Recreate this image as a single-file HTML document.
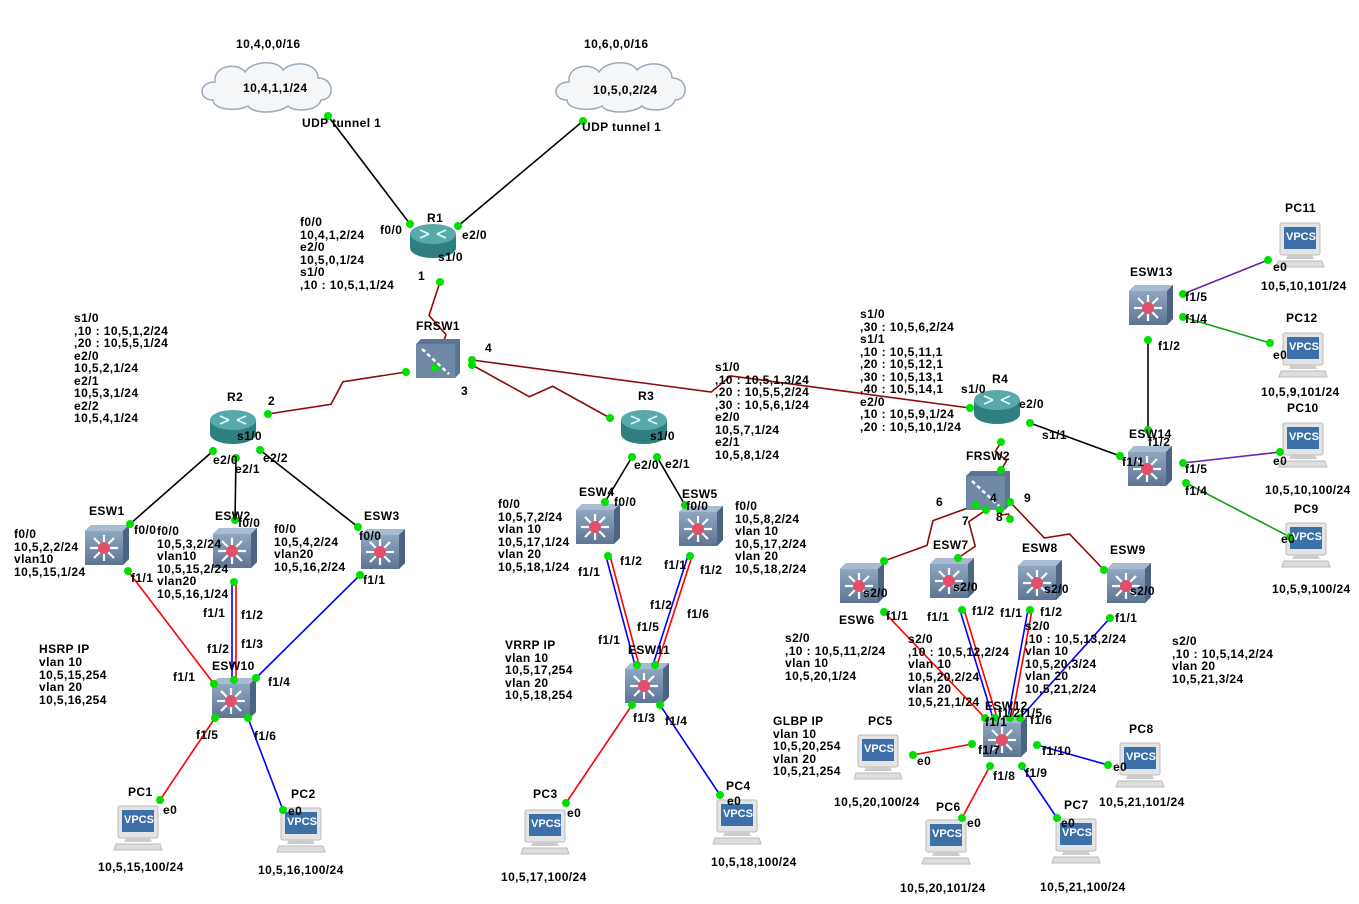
<!DOCTYPE html>
<html><head><meta charset="utf-8"><style>
body{margin:0;background:#fff}
svg{display:block}
text{font-family:"Liberation Sans",sans-serif;font-size:12px;letter-spacing:0.4px;font-weight:bold;fill:#000;dominant-baseline:hanging}
.v{font-size:11px;letter-spacing:0;fill:#fff;font-weight:bold}
</style></head><body>
<svg id="s" width="1359" height="904" viewBox="0 0 1359 904" xmlns="http://www.w3.org/2000/svg">
<defs>
<linearGradient id="sg" x1="0" y1="0" x2="0" y2="1"><stop offset="0" stop-color="#8fa6c0"/><stop offset="1" stop-color="#5d7594"/></linearGradient>
<g id="sw"><path d="M0,6 L6,0 L44,0 L44,34 L38,40 L0,40Z" fill="#5d7594"/><rect x="0" y="6" width="38" height="34" fill="url(#sg)"/><path d="M0,6 L6,0 L44,0 L38,6Z" fill="#a9bbd0"/><path d="M38,6 L44,0 L44,34 L38,40Z" fill="#4c6482"/>
<g stroke="#fff" stroke-width="2.2"><line x1="19" y1="23" x2="19" y2="10"/><line x1="19" y1="23" x2="19" y2="36"/><line x1="19" y1="23" x2="5" y2="23"/><line x1="19" y1="23" x2="33" y2="23"/><line x1="19" y1="23" x2="9" y2="13"/><line x1="19" y1="23" x2="29" y2="33"/><line x1="19" y1="23" x2="29" y2="13"/><line x1="19" y1="23" x2="9" y2="33"/></g>
<circle cx="19" cy="23" r="6" fill="#e0506a"/></g>
<g id="fr"><path d="M0,5 L5,0 L44,0 L44,34 L39,39 L0,39Z" fill="#5d7594"/><rect x="0" y="5" width="39" height="34" fill="#6f88a6"/><line x1="6" y1="10" x2="33" y2="35" stroke="#fff" stroke-width="2.5" stroke-dasharray="4,3"/></g>
<g id="rt"><path d="M0,12 L0,26 A23,10 0 0 0 46,26 L46,12Z" fill="#2f7f80"/><ellipse cx="23" cy="12" rx="23" ry="10" fill="#5aa9aa"/><g stroke="#dff" stroke-width="1.6"><line x1="10" y1="8" x2="19" y2="12"/><line x1="36" y1="8" x2="27" y2="12"/><line x1="10" y1="16" x2="19" y2="12"/><line x1="36" y1="16" x2="27" y2="12"/></g></g>
<g id="pc"><rect x="2" y="0" width="40" height="32" rx="2" fill="#e4e4e4" stroke="#bbb"/><rect x="6" y="4" width="32" height="22" fill="#3d70a8"/><path d="M10,32 L34,32 L36,36 L8,36Z" fill="#ccc"/><path d="M0,38 L44,38 L46,44 L-2,44Z" fill="#ddd" stroke="#bbb"/></g>
<g id="cl"><path d="M10,40 C-5,40 -5,22 12,22 C10,5 35,2 42,12 C50,0 75,0 80,10 C90,0 115,2 115,18 C132,18 132,40 118,40 C115,52 90,52 85,46 C75,54 50,54 45,46 C35,52 10,50 10,40Z" fill="#f4f6f8" stroke="#9ab" stroke-width="1.5"/></g>
</defs>
<g id="links" fill="none" stroke-width="1.6"></g>
<use href="#cl" x="203" y="60"/><use href="#cl" x="557" y="60"/>
<use href="#rt" x="410" y="222"/><use href="#rt" x="210" y="408"/><use href="#rt" x="621" y="408"/><use href="#rt" x="974" y="388"/>
<use href="#fr" x="416" y="339"/><use href="#fr" x="966" y="471"/>
<use href="#sw" x="85" y="525"/><use href="#sw" x="213" y="528"/><use href="#sw" x="361" y="529"/><use href="#sw" x="576" y="504"/><use href="#sw" x="679" y="506"/><use href="#sw" x="212" y="678"/><use href="#sw" x="625" y="663"/><use href="#sw" x="840" y="563"/><use href="#sw" x="930" y="558"/><use href="#sw" x="1018" y="560"/><use href="#sw" x="1107" y="563"/><use href="#sw" x="983" y="717"/><use href="#sw" x="1129" y="285"/><use href="#sw" x="1128" y="446"/>
<g id="pcs"></g>
<g id="dots" fill="#00e000"></g>
<text x="236" y="39">10,4,0,0/16</text><text x="243" y="83">10,4,1,1/24</text><text x="302" y="118">UDP tunnel 1</text>
<text x="584" y="39">10,6,0,0/16</text><text x="593" y="85">10,5,0,2/24</text><text x="582" y="122">UDP tunnel 1</text>
<text x="427" y="213">R1</text><text x="380" y="225">f0/0</text><text x="462" y="230">e2/0</text><text x="438" y="252">s1/0</text><text x="418" y="271">1</text>
<text x="300" y="217">f0/0</text><text x="300" y="230">10,4,1,2/24</text><text x="300" y="242">e2/0</text><text x="300" y="255">10,5,0,1/24</text><text x="300" y="267">s1/0</text><text x="300" y="280">,10 : 10,5,1,1/24</text>
<text x="416" y="321">FRSW1</text><text x="485" y="343">4</text><text x="461" y="386">3</text><text x="268" y="396">2</text>
<text x="74" y="313">s1/0</text><text x="74" y="326">,10 : 10,5,1,2/24</text><text x="74" y="338">,20 : 10,5,5,1/24</text><text x="74" y="351">e2/0</text><text x="74" y="363">10,5,2,1/24</text><text x="74" y="376">e2/1</text><text x="74" y="388">10,5,3,1/24</text><text x="74" y="401">e2/2</text><text x="74" y="413">10,5,4,1/24</text>
<text x="227" y="392">R2</text><text x="237" y="431">s1/0</text><text x="213" y="455">e2/0</text><text x="235" y="464">e2/1</text><text x="263" y="453">e2/2</text>
<text x="89" y="506">ESW1</text><text x="134" y="525">f0/0</text><text x="14" y="529">f0/0</text><text x="14" y="542">10,5,2,2/24</text><text x="14" y="554">vlan10</text><text x="14" y="567">10,5,15,1/24</text><text x="131" y="573">f1/1</text>
<text x="215" y="511">ESW2</text><text x="238" y="518">f0/0</text><text x="157" y="526">f0/0</text><text x="157" y="539">10,5,3,2/24</text><text x="157" y="551">vlan10</text><text x="157" y="564">10,5,15,2/24</text><text x="157" y="576">vlan20</text><text x="157" y="589">10,5,16,1/24</text>
<text x="203" y="608">f1/1</text><text x="241" y="610">f1/2</text><text x="207" y="644">f1/2</text><text x="241" y="639">f1/3</text>
<text x="364" y="511">ESW3</text><text x="359" y="531">f0/0</text><text x="274" y="524">f0/0</text><text x="274" y="537">10,5,4,2/24</text><text x="274" y="549">vlan20</text><text x="274" y="562">10,5,16,2/24</text><text x="363" y="575">f1/1</text>
<text x="212" y="661">ESW10</text><text x="173" y="672">f1/1</text><text x="268" y="677">f1/4</text><text x="196" y="730">f1/5</text><text x="254" y="731">f1/6</text>
<text x="39" y="644">HSRP IP</text><text x="39" y="657">vlan 10</text><text x="39" y="670">10,5,15,254</text><text x="39" y="682">vlan 20</text><text x="39" y="695">10,5,16,254</text>
<text x="128" y="787">PC1</text><text x="163" y="805">e0</text><text x="98" y="862">10,5,15,100/24</text><text x="291" y="789">PC2</text><text x="288" y="806">e0</text><text x="258" y="865">10,5,16,100/24</text>
<text x="638" y="391">R3</text><text x="650" y="431">s1/0</text><text x="634" y="460">e2/0</text><text x="665" y="459">e2/1</text>
<text x="715" y="362">s1/0</text><text x="715" y="375">,10 : 10,5,1,3/24</text><text x="715" y="387">,20 : 10,5,5,2/24</text><text x="715" y="400">,30 : 10,5,6,1/24</text><text x="715" y="412">e2/0</text><text x="715" y="425">10,5,7,1/24</text><text x="715" y="437">e2/1</text><text x="715" y="450">10,5,8,1/24</text>
<text x="579" y="487">ESW4</text><text x="614" y="497">f0/0</text><text x="498" y="499">f0/0</text><text x="498" y="512">10,5,7,2/24</text><text x="498" y="524">vlan 10</text><text x="498" y="537">10,5,17,1/24</text><text x="498" y="549">vlan 20</text><text x="498" y="562">10,5,18,1/24</text><text x="620" y="556">f1/2</text><text x="578" y="567">f1/1</text>
<text x="682" y="489">ESW5</text><text x="686" y="501">f0/0</text><text x="735" y="501">f0/0</text><text x="735" y="514">10,5,8,2/24</text><text x="735" y="526">vlan 10</text><text x="735" y="539">10,5,17,2/24</text><text x="735" y="551">vlan 20</text><text x="735" y="564">10,5,18,2/24</text><text x="664" y="560">f1/1</text><text x="700" y="565">f1/2</text>
<text x="650" y="600">f1/2</text><text x="687" y="609">f1/6</text><text x="637" y="622">f1/5</text><text x="598" y="635">f1/1</text><text x="628" y="645">ESW11</text><text x="633" y="713">f1/3</text><text x="665" y="716">f1/4</text>
<text x="505" y="640">VRRP IP</text><text x="505" y="653">vlan 10</text><text x="505" y="665">10,5,17,254</text><text x="505" y="678">vlan 20</text><text x="505" y="690">10,5,18,254</text>
<text x="533" y="789">PC3</text><text x="567" y="808">e0</text><text x="501" y="872">10,5,17,100/24</text><text x="726" y="781">PC4</text><text x="727" y="796">e0</text><text x="711" y="857">10,5,18,100/24</text>
<text x="992" y="374">R4</text><text x="961" y="384">s1/0</text><text x="1019" y="399">e2/0</text><text x="1042" y="430">s1/1</text>
<text x="860" y="309">s1/0</text><text x="860" y="322">,30 : 10,5,6,2/24</text><text x="860" y="334">s1/1</text><text x="860" y="347">,10 : 10,5,11,1</text><text x="860" y="359">,20 : 10,5,12,1</text><text x="860" y="372">,30 : 10,5,13,1</text><text x="860" y="384">,40 : 10,5,14,1</text><text x="860" y="397">e2/0</text><text x="860" y="409">,10 : 10,5,9,1/24</text><text x="860" y="422">,20 : 10,5,10,1/24</text>
<text x="966" y="451">FRSW2</text><text x="990" y="493">4</text><text x="936" y="497">6</text><text x="962" y="516">7</text><text x="996" y="512">8</text><text x="1024" y="493">9</text>
<text x="839" y="615">ESW6</text><text x="863" y="588">s2/0</text><text x="886" y="611">f1/1</text><text x="933" y="540">ESW7</text><text x="953" y="582">s2/0</text><text x="927" y="612">f1/1</text><text x="972" y="606">f1/2</text>
<text x="1022" y="543">ESW8</text><text x="1044" y="584">s2/0</text><text x="1000" y="608">f1/1</text><text x="1040" y="607">f1/2</text><text x="1110" y="545">ESW9</text><text x="1130" y="586">s2/0</text><text x="1115" y="613">f1/1</text>
<text x="785" y="633">s2/0</text><text x="785" y="646">,10 : 10,5,11,2/24</text><text x="785" y="658">vlan 10</text><text x="785" y="671">10,5,20,1/24</text>
<text x="908" y="634">s2/0</text><text x="908" y="647">,10 : 10,5,12,2/24</text><text x="908" y="659">vlan 10</text><text x="908" y="672">10,5,20,2/24</text><text x="908" y="684">vlan 20</text><text x="908" y="697">10,5,21,1/24</text>
<text x="1025" y="621">s2/0</text><text x="1025" y="634">,10 : 10,5,13,2/24</text><text x="1025" y="646">vlan 10</text><text x="1025" y="659">10,5,20,3/24</text><text x="1025" y="671">vlan 20</text><text x="1025" y="684">10,5,21,2/24</text>
<text x="1172" y="636">s2/0</text><text x="1172" y="649">,10 : 10,5,14,2/24</text><text x="1172" y="661">vlan 20</text><text x="1172" y="674">10,5,21,3/24</text>
<text x="985" y="701">ESW12</text><text x="998" y="708">f1/2f1/5</text><text x="985" y="717">f1/1</text><text x="1030" y="715">f1/6</text><text x="978" y="745">f1/7</text><text x="1042" y="746">f1/10</text><text x="993" y="771">f1/8</text><text x="1025" y="768">f1/9</text>
<text x="773" y="716">GLBP IP</text><text x="773" y="729">vlan 10</text><text x="773" y="741">10,5,20,254</text><text x="773" y="754">vlan 20</text><text x="773" y="766">10,5,21,254</text>
<text x="868" y="716">PC5</text><text x="917" y="756">e0</text><text x="834" y="797">10,5,20,100/24</text><text x="936" y="802">PC6</text><text x="967" y="818">e0</text><text x="900" y="883">10,5,20,101/24</text>
<text x="1064" y="800">PC7</text><text x="1061" y="818">e0</text><text x="1040" y="882">10,5,21,100/24</text><text x="1129" y="724">PC8</text><text x="1113" y="762">e0</text><text x="1099" y="797">10,5,21,101/24</text>
<text x="1130" y="267">ESW13</text><text x="1185" y="292">f1/5</text><text x="1185" y="314">f1/4</text><text x="1158" y="341">f1/2</text><text x="1129" y="429">ESW14</text><text x="1148" y="437">f1/2</text><text x="1122" y="457">f1/1</text><text x="1185" y="464">f1/5</text><text x="1185" y="486">f1/4</text>
<text x="1285" y="203">PC11</text><text x="1273" y="262">e0</text><text x="1261" y="281">10,5,10,101/24</text><text x="1286" y="313">PC12</text><text x="1273" y="350">e0</text><text x="1261" y="387">10,5,9,101/24</text>
<text x="1287" y="403">PC10</text><text x="1273" y="456">e0</text><text x="1265" y="485">10,5,10,100/24</text><text x="1294" y="504">PC9</text><text x="1281" y="534">e0</text><text x="1272" y="584">10,5,9,100/24</text>
<g id="vp">
<text class="v" x="124" y="816">VPCS</text><text class="v" x="287" y="818">VPCS</text><text class="v" x="531" y="820">VPCS</text><text class="v" x="723" y="810">VPCS</text><text class="v" x="864" y="745">VPCS</text><text class="v" x="932" y="830">VPCS</text><text class="v" x="1062" y="829">VPCS</text><text class="v" x="1126" y="753">VPCS</text><text class="v" x="1292" y="533">VPCS</text><text class="v" x="1289" y="433">VPCS</text><text class="v" x="1286" y="233">VPCS</text><text class="v" x="1289" y="343">VPCS</text>
</g>
</svg>
<script>
var NS="http://www.w3.org/2000/svg";
function el(p,t,a){var e=document.createElementNS(NS,t);for(var k in a)e.setAttribute(k,a[k]);p.appendChild(e);return e;}
var L=document.getElementById("links"),D=document.getElementById("dots"),P=document.getElementById("pcs");
function ln(a,b,c,d,col){el(L,"line",{x1:a,y1:b,x2:c,y2:d,stroke:col});dot(a,b);dot(c,d);}
function dot(x,y){el(D,"circle",{cx:x,cy:y,r:4});}
function z(a,b,c,d){var dx=c-a,dy=d-b,l=Math.hypot(dx,dy),ux=dx/l,uy=dy/l,px=-uy,py=ux,mx=(a+c)/2,my=(b+d)/2,s=Math.min(9,l/6),h=Math.min(9,l/5);
el(L,"path",{d:"M"+a+","+b+" L"+(mx-ux*s+px*h)+","+(my-uy*s+py*h)+" L"+(mx+ux*s-px*h)+","+(my+uy*s-py*h)+" L"+c+","+d,stroke:"#8b0a0a"});dot(a,b);dot(c,d);}
function dbl(a,b,c,d){var dx=c-a,dy=d-b,l=Math.hypot(dx,dy),px=-dy/l*2,py=dx/l*2;
el(L,"line",{x1:a-px,y1:b-py,x2:c-px,y2:d-py,stroke:"red"});el(L,"line",{x1:a+px,y1:b+py,x2:c+px,y2:d+py,stroke:"blue"});dot(a,b);dot(c,d);}
var K="#000",R="red",B="blue",Pu="#6a1fb0",G="#10a010";
ln(328,116,410,224,K);ln(583,121,458,226,K);
z(440,282,435,368);z(406,372,268,414);z(472,360,970,408);z(472,365,610,418);
z(1001,442,1001,470);z(976,505,884,561);z(986,510,958,558);z(1000,510,1010,519);z(1010,502,1104,570);
ln(1030,423,1120,456,K);ln(1148,340,1148,430,K);
ln(1183,294,1268,260,Pu);ln(1183,317,1270,343,G);ln(1183,463,1280,452,Pu);ln(1186,483,1290,537,G);
ln(213,451,130,524,K);ln(236,458,235,520,K);ln(260,450,358,527,K);
ln(128,571,214,684,R);dbl(234,582,234,680);ln(360,575,256,678,B);
ln(215,718,160,800,R);ln(248,718,283,810,B);
ln(632,457,605,502,K);ln(657,457,685,505,K);
dbl(608,556,637,665);dbl(690,556,655,665);
ln(632,705,566,803,R);ln(660,705,720,795,B);
ln(884,612,985,718,R);dbl(962,610,995,718);dbl(1030,610,1010,718);ln(1110,618,1020,718,B);
ln(972,744,913,755,R);ln(990,766,962,818,R);ln(1022,766,1057,818,B);ln(1037,745,1108,765,B);
[[116,806],[279,808],[523,810],[715,800],[856,735],[924,820],[1054,819],[1118,743],[1284,523],[1281,423],[1278,223],[1281,333]].forEach(function(p){el(P,"use",{href:"#pc",x:p[0],y:p[1]});});
</script>
</body></html>
